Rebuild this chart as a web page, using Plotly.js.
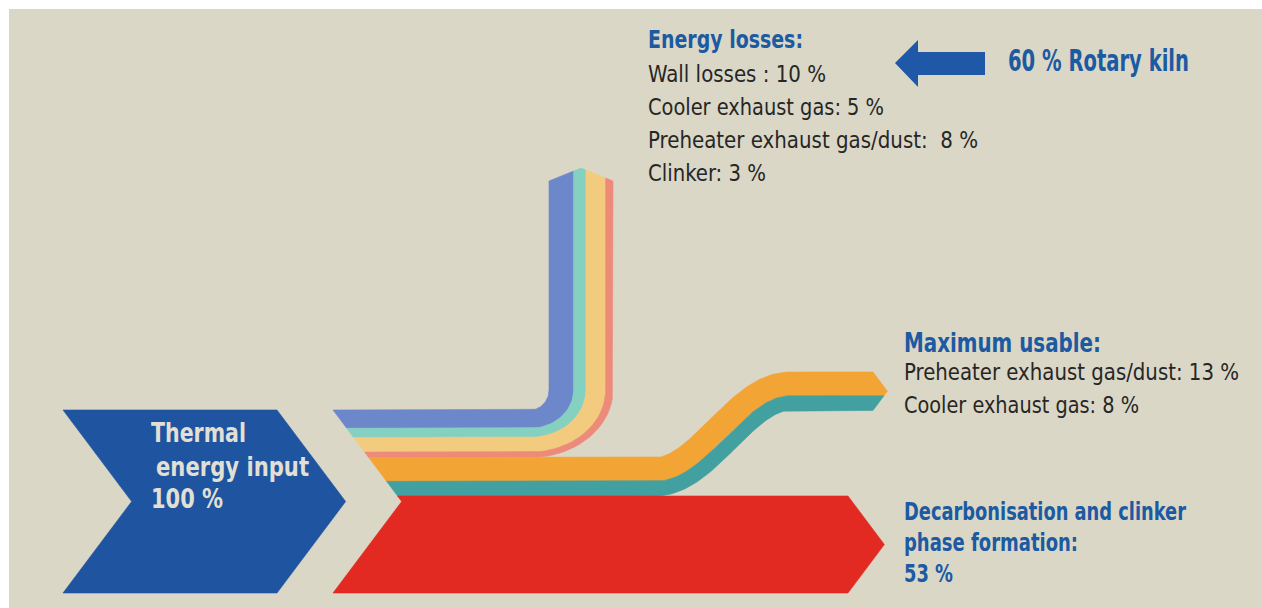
<!DOCTYPE html>
<html>
<head>
<meta charset="utf-8">
<script src="https://cdn.plot.ly/plotly-3.0.1.min.js"></script>
<style>
  html, body { margin: 0; padding: 0; background: #ffffff; }
  #chart { width: 1262px; height: 608px; }
</style>
</head>
<body>
<div id="chart"></div>
<script>
// Thermal energy balance of a clinker kiln line, in percent of the fuel input
const inputName = "Thermal energy input";
const inputShare = 100;
const lossNames = ["Wall losses", "Cooler exhaust gas", "Preheater exhaust gas/dust", "Clinker"];
const lossShares = [10, 5, 8, 3];
const usableNames = ["Preheater exhaust gas/dust", "Cooler exhaust gas"];
const usableShares = [13, 8];
const processLines = ["Decarbonisation and clinker", "phase formation:"];
const processShare = 53;
const kilnShare = 60;
const kilnName = "Rotary kiln";

// colours
const lossColors = ["#6d87cb", "#84d0c1", "#f3cb7f", "#ee8a79"];
const usableColors = ["#f2a535", "#43a0a0"];
const processColor = "#e32a22";
const inputColor = "#1f54a0";
const headBlue = "#1c5aa2";
const bodyInk = "#262626";
const inputInk = "#e2e0d4";
const canvasTone = "#dad7c7";

// drawing frame: x and y run in screen units, y downwards
const G = {
  top: 410, height: 183,          // span of the 100 % input across the flow
  inLeft: 63, inRight: 277,       // body of the input chevron
  flowLeft: 333,                  // left end of the outgoing streams
  slope: 0.75,                    // chevron sides: x shift per unit of y
  lossCol: 549, lossColWidth: 64, // rising column of the loss streams
  roofBase: 181, roofRise: 13,    // slanted cap on top of the column
  bendX: 530, bendY: 390,         // centre of the bend into the column
  sStart: 655, sEnd: 790,         // S-bend of the usable streams
  usableEnd: 873, usableTopEnd: 372,
  processRight: 848
};

const sum = a => a.reduce((s, v) => s + v, 0);
const lossTotal = sum(lossShares);
const usableTotal = sum(usableShares);
const k = G.height / inputShare;             // units per percent across a stream
const kv = G.lossColWidth / lossTotal;       // column drawn wider (perspective)
const half = G.height / 2;
const mid = G.top + half;

function leftEdge(y) { return G.flowLeft + G.slope * (half - Math.abs(y - mid)); }

// left side of any stream between yA and yB, walked from yB up to yA
function leftSide(yA, yB) {
  const pts = [[leftEdge(yB), yB]];
  if (yA < mid && yB > mid) pts.push([leftEdge(mid), mid]);
  pts.push([leftEdge(yA), yA]);
  return pts;
}

function toTrace(pts, color, name) {
  return {
    type: "scatter", mode: "lines",
    x: pts.map(p => p[0]).concat([pts[0][0]]),
    y: pts.map(p => p[1]).concat([pts[0][1]]),
    fill: "toself", fillcolor: color,
    line: { color: color, width: 0.6 },
    hoveron: "fills", name: name, hoverinfo: "name"
  };
}

// input chevron
function inputShape() {
  const b = G.top + inputShare * k, m = (G.top + b) / 2, d = G.slope * (b - G.top) / 2;
  return [[G.inLeft, G.top], [G.inRight, G.top], [G.inRight + d, m],
          [G.inRight, b], [G.inLeft, b], [G.inLeft + d, m]];
}

// loss streams: horizontal run, quarter bend, rising column with slanted cap
const colMidX = G.lossCol + G.lossColWidth / 2;
function roof(x) { return G.roofBase - G.roofRise * (1 - Math.abs(x - colMidX) / (G.lossColWidth / 2)); }
function bend(y, x, reverse) {
  const rx = x - G.bendX, ry = y - G.bendY, pts = [];
  for (let i = 0; i <= 24; i++) {
    const t = (Math.PI / 2) * i / 24;
    pts.push([G.bendX + rx * Math.sin(t), G.bendY + ry * Math.cos(t)]);
  }
  return reverse ? pts.reverse() : pts;
}
function lossShape(c0, c1) {
  const yA = G.top + c0 * k, yB = G.top + c1 * k;
  const xA = G.lossCol + c0 * kv, xB = G.lossCol + c1 * kv;
  let pts = [[leftEdge(yA), yA]];
  pts = pts.concat(bend(yA, xA, false));
  pts.push([xA, roof(xA)]);
  if (xA < colMidX && xB > colMidX) pts.push([colMidX, roof(colMidX)]);
  pts.push([xB, roof(xB)]);
  pts = pts.concat(bend(yB, xB, true));
  pts = pts.concat(leftSide(yA, yB).slice(0, -1));
  return pts;
}

// usable streams: S-bend drawn as offsets of a centre line
const yc0 = G.top + (lossTotal + usableTotal / 2) * k;
const halfU = usableTotal * k / 2;
const rise = yc0 - (G.usableTopEnd + halfU);
const yEndC = yc0 - rise;
function centreY(x) {
  const t = Math.min(1, Math.max(0, (x - G.sStart) / (G.sEnd - G.sStart)));
  return yc0 - rise * (1 - Math.cos(Math.PI * t)) / 2;
}
function centreSlope(x) {
  if (x <= G.sStart || x >= G.sEnd) return 0;
  const L = G.sEnd - G.sStart, t = (x - G.sStart) / L;
  return -rise * Math.PI / (2 * L) * Math.sin(Math.PI * t);
}
function offsetEdge(o) {
  const pts = [], x0 = leftEdge(yc0 + o);
  for (let x = x0; x < G.usableEnd; x += 2) {
    const s = centreSlope(x), n = Math.hypot(1, s);
    pts.push([x - o * s / n, centreY(x) + o / n]);
  }
  pts.push([G.usableEnd, yEndC + o]);
  return pts;
}
function rightTip(y) { return G.usableEnd + G.slope * (halfU - Math.abs(y - yEndC)); }
function usableShape(c0, c1) {
  const oA = G.top + (lossTotal + c0) * k - yc0, oB = G.top + (lossTotal + c1) * k - yc0;
  let pts = offsetEdge(oA);
  pts.pop();
  pts.push([rightTip(yEndC + oA), yEndC + oA]);
  if (oA < 0 && oB > 0) pts.push([rightTip(yEndC), yEndC]);
  pts.push([rightTip(yEndC + oB), yEndC + oB]);
  const bottom = offsetEdge(oB);
  bottom.pop();
  pts = pts.concat(bottom.reverse());
  return pts;
}

// clinker process stream
function processShape() {
  const yA = G.top + (inputShare - processShare) * k, yB = G.top + inputShare * k;
  const d = G.slope * (yB - yA) / 2;
  const pts = [[G.processRight, yA], [G.processRight + d, (yA + yB) / 2], [G.processRight, yB]];
  return pts.concat(leftSide(yA, yB));
}

const traces = [toTrace(inputShape(), inputColor, `${inputName}: ${inputShare} %`)];
let c = 0;
lossShares.forEach((v, i) => {
  traces.push(toTrace(lossShape(c, c + v), lossColors[i], `Loss – ${lossNames[i]}: ${v} %`));
  c += v;
});
let u = 0;
usableShares.forEach((v, i) => {
  traces.push(toTrace(usableShape(u, u + v), usableColors[i], `Usable – ${usableNames[i]}: ${v} %`));
  u += v;
});
traces.push(toTrace(processShape(), processColor, `${processLines.join(" ")} ${processShare} %`));

// text blocks
const FONT = '"Liberation Sans Narrow", "Arial Narrow", "DejaVu Sans Condensed", "Liberation Sans", sans-serif';
const nb = "\u00a0";
const lossSep = [nb + ": ", ": ", ":" + nb + " ", ": "];
const labels = [
  { text: "Energy losses:", x: 647, y: 39, size: 25, bold: true, color: headBlue, w: 155 },
  ...lossNames.map((n, i) => ({
    text: `${n}${lossSep[i]}${lossShares[i]} %`, x: 647, y: 73.5 + i * 33, size: 23,
    bold: false, color: bodyInk, w: [178, 236, 330, 118][i]
  })),
  { text: `${kilnShare} % ${kilnName}`, x: 1007, y: 60.5, size: 30, bold: true, color: headBlue, w: 181 },
  { text: "Maximum usable:", x: 903, y: 342.5, size: 26, bold: true, color: headBlue, w: 197 },
  ...usableNames.map((n, i) => ({
    text: `${n}: ${usableShares[i]} %`, x: 903, y: 372 + i * 33, size: 22.5,
    bold: false, color: bodyInk, w: [335, 235][i]
  })),
  { text: processLines[0], x: 903, y: 511, size: 25, bold: true, color: headBlue, w: 282 },
  { text: processLines[1], x: 903, y: 542, size: 25, bold: true, color: headBlue, w: 174 },
  { text: `${processShare} %`, x: 903, y: 573, size: 25, bold: true, color: headBlue, w: 49 },
  { text: "Thermal", x: 150, y: 432.5, size: 26, bold: true, color: inputInk, w: 95 },
  { text: "energy input", x: 155, y: 467, size: 26, bold: true, color: inputInk, w: 153 },
  { text: `${inputShare} %`, x: 150, y: 499, size: 26, bold: true, color: inputInk, w: 72 }
];

const annotations = labels.map(l => ({
  xref: "x", yref: "y", x: l.x, y: l.y, xanchor: "left", yanchor: "middle",
  align: "left", showarrow: false, borderpad: 0, width: l.w + 2, text: l.text,
  font: { family: FONT, size: l.size, color: l.color, weight: l.bold ? 700 : 400 }
}));

const layout = {
  width: 1262, height: 608,
  margin: { l: 0, r: 0, t: 0, b: 0 },
  paper_bgcolor: "#ffffff", plot_bgcolor: "#ffffff",
  showlegend: false,
  xaxis: { range: [0, 1262], visible: false, fixedrange: true },
  yaxis: { range: [608, 0], visible: false, fixedrange: true },
  shapes: [
    { type: "rect", xref: "x", yref: "y", x0: 9, x1: 1262, y0: 9, y1: 608,
      fillcolor: canvasTone, line: { width: 0 }, layer: "below" },
    // pointer towards the loss list
    { type: "path", xref: "x", yref: "y", layer: "above",
      path: "M895,63 L918,40 L918,52 L985,52 L985,75 L918,75 L918,87 Z",
      fillcolor: "#1f58a6", line: { width: 0 } }
  ],
  annotations: annotations,
  hovermode: "closest"
};

Plotly.newPlot("chart", traces, layout, { displayModeBar: false }).then(gd => {
  // fit each label to its set width
  gd.querySelectorAll("g.annotation").forEach(g => {
    const i = +g.getAttribute("data-index");
    const t = g.querySelector("text.annotation-text");
    if (t && labels[i]) {
      t.setAttribute("x", 1);
      t.setAttribute("textLength", labels[i].w);
      t.setAttribute("lengthAdjust", "spacingAndGlyphs");
    }
  });
});
</script>
</body>
</html>
